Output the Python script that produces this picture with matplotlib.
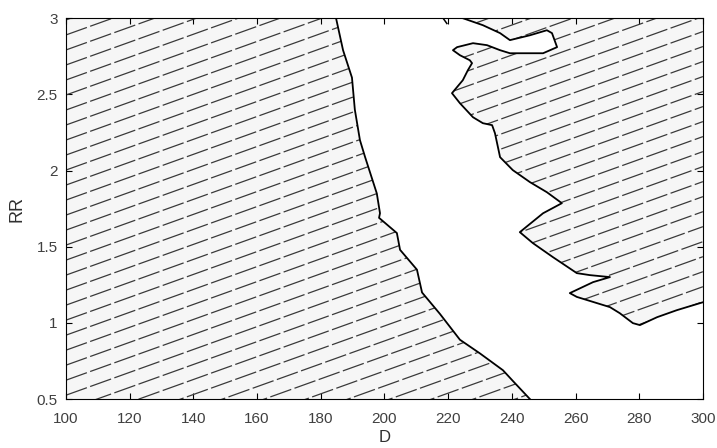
import numpy as np
import matplotlib
matplotlib.use("Agg")
from matplotlib import pyplot as plt
from matplotlib.patches import Polygon

plt.rcParams['font.family'] = ['Liberation Sans', 'DejaVu Sans']
plt.rcParams['lines.scale_dashes'] = False

# left boundary (D, RR), from top edge down to bottom edge
left_d = [184.8, 187.0, 189.8, 190.7, 192.3, 193.9, 197.6, 198.6, 198.3, 203.9,
          204.9, 210.2, 211.8, 217.4, 223.7, 230.0, 237.2, 240.3, 245.7]
left_rr = [3.0, 2.79, 2.61, 2.40, 2.20, 2.09, 1.85, 1.72, 1.69, 1.59,
           1.48, 1.35, 1.20, 1.06, 0.89, 0.80, 0.69, 0.62, 0.5]

# right boundary (D, RR), from top edge round the arm down to right edge
right_d = [224.6, 230.9, 236.3, 239.4, 245.7, 251.0, 252.6, 254.2, 249.8, 245.7,
           239.4, 236.3, 232.2, 227.8, 222.8, 221.5, 223.7, 226.8, 227.5, 226.2,
           224.6, 221.2, 223.7, 227.8, 230.9, 233.8, 234.7, 236.3, 240.3, 245.7,
           251.0, 255.7, 249.8, 242.5, 246.6, 252.9, 260.4, 264.5, 270.8, 265.5,
           258.2, 260.4, 270.8, 273.9, 278.0, 280.2, 285.6, 291.8, 300.0]
right_rr = [3.0, 2.954, 2.902, 2.856, 2.888, 2.921, 2.902, 2.810, 2.770, 2.770,
            2.770, 2.790, 2.823, 2.836, 2.810, 2.790, 2.757, 2.724, 2.705, 2.659,
            2.593, 2.508, 2.442, 2.350, 2.311, 2.298, 2.245, 2.088, 2.003, 1.924,
            1.858, 1.786, 1.720, 1.596, 1.524, 1.432, 1.327, 1.314, 1.301, 1.268,
            1.196, 1.171, 1.104, 1.064, 0.999, 0.986, 1.038, 1.084, 1.136]

# small fragment near the top edge
stub_d = [218.4, 219.6]
stub_rr = [3.0, 2.965]

x_ticks = list(range(100, 301, 20))
y_ticks = [0.5, 1, 1.5, 2, 2.5, 3]
y_labels = ["0.5", "1", "1.5", "2", "2.5", "3"]

fig = plt.figure(figsize=(7.17, 4.48), dpi=100)
ax = fig.add_axes([0.092, 0.109, 0.8884, 0.8504])
ax.set_xlim(100, 300)
ax.set_ylim(0.5, 3)

# hatched regions
left_poly = list(zip(left_d, left_rr)) + [(100, 0.5), (100, 3.0)]
right_poly = list(zip(right_d, right_rr)) + [(300, 3.0)]

for pts in (left_poly, right_poly):
    patch = Polygon(pts, closed=True, facecolor="#f6f6f6", edgecolor="none", zorder=1)
    ax.add_patch(patch)
    # dashed diagonal hatch in axes coords, clipped to the region
    slope = 0.60
    step = 0.0394
    for b in np.arange(-slope - 0.02, 1.02, step):
        ln, = ax.plot([0, 1], [b, b + slope], transform=ax.transAxes,
                      color="#3a3a3a", lw=0.9, zorder=2, linestyle=(0, (16, 2.5)))
        ln.set_clip_path(patch)

ax.plot(left_d, left_rr, color="black", lw=1.3, zorder=3)
ax.plot(right_d, right_rr, color="black", lw=1.3, zorder=3)
ax.plot(stub_d, stub_rr, color="black", lw=1.1, zorder=3)

ax.set_xticks(x_ticks)
ax.set_yticks(y_ticks)
ax.set_yticklabels(y_labels)
ax.tick_params(direction="in", length=4, width=0.8, top=True, right=True,
               labelsize=11, labelcolor="#404040", colors="black")
ax.tick_params(axis="x", pad=9)
ax.tick_params(axis="y", pad=6)
for sp in ax.spines.values():
    sp.set_linewidth(0.8)
    sp.set_zorder(4)

ax.set_xlabel("D", fontsize=12, color="#303030", labelpad=3)
ax.set_ylabel("RR", fontsize=13, color="#303030", labelpad=8)

fig.savefig("out.png", dpi=100)
